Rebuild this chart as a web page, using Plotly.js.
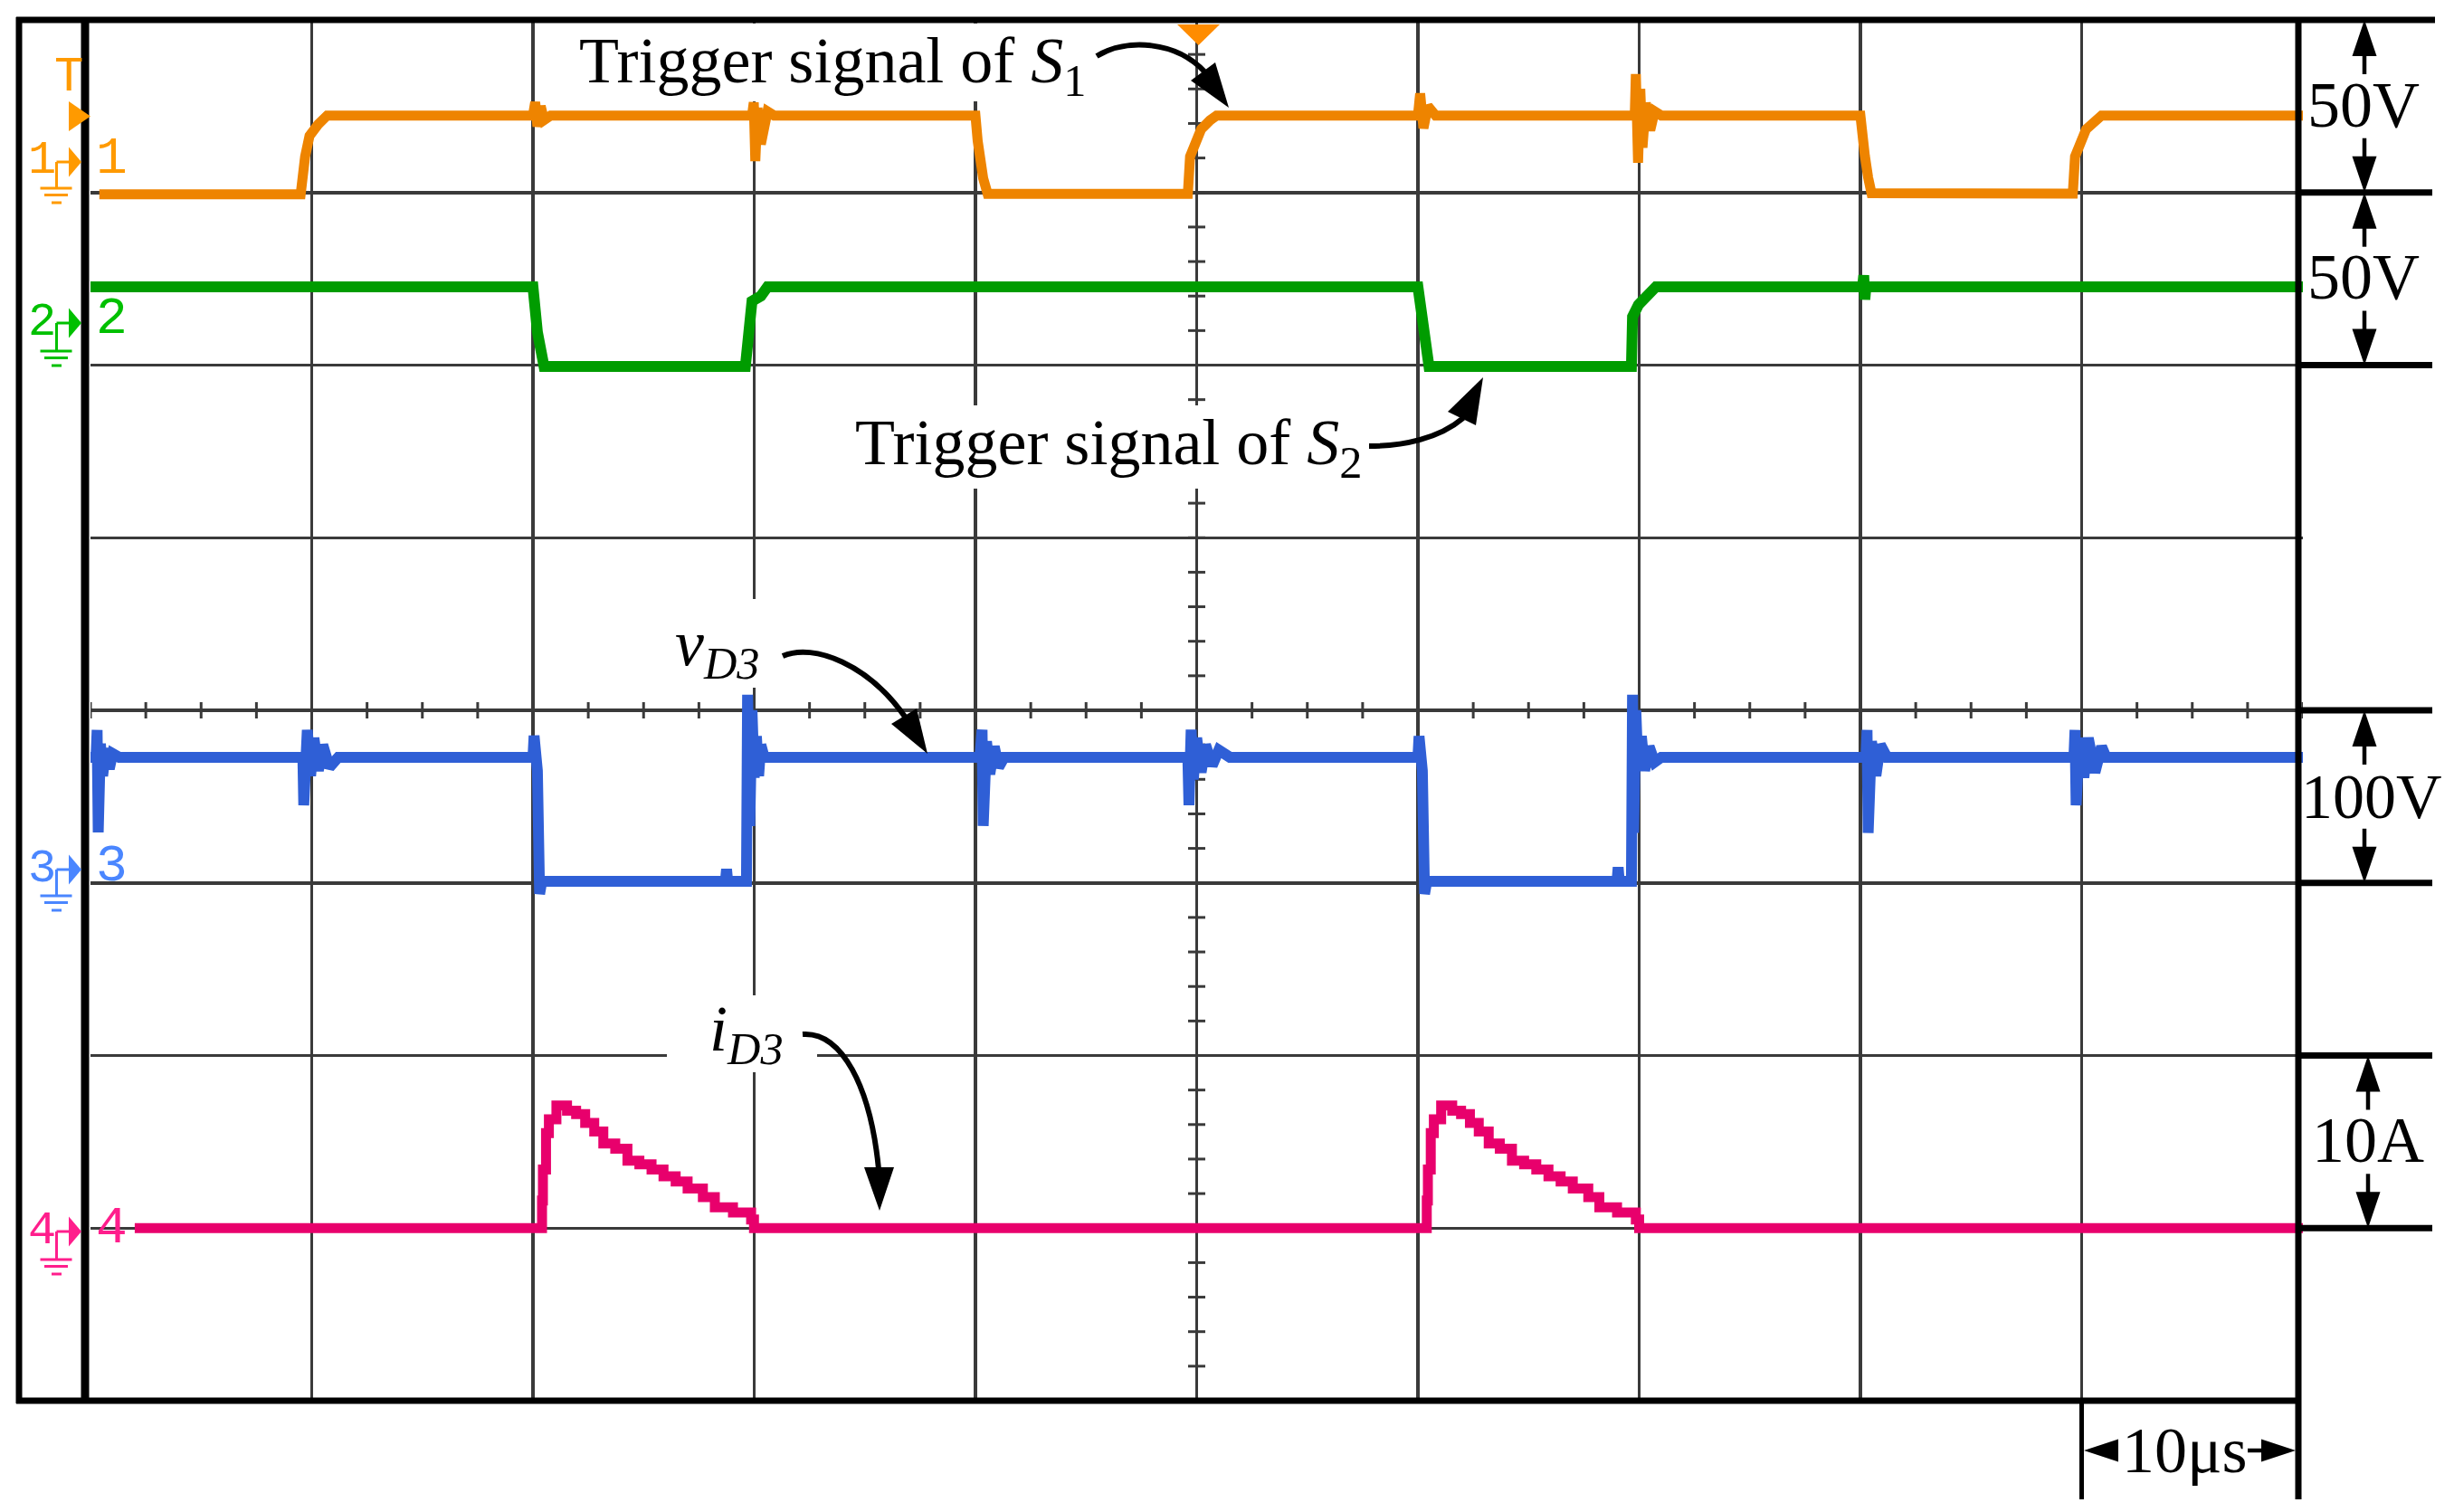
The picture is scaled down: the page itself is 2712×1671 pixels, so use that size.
<!DOCTYPE html>
<html>
<head>
<meta charset="utf-8">
<script src="https://cdn.plot.ly/plotly-3.0.1.min.js"></script>
<style>body{margin:0;background:#fff}</style>
</head>
<body>
<div id="scope" style="width:2712px;height:1671px"></div>
<script>
// time axis in microseconds, 10 us/div

// CH1 - trigger signal of S1, volts (50 V/div)
var t1 = [0.4, 9.5, 9.7, 9.9, 10.3, 10.7, 20.0, 20.1, 20.2, 20.35, 20.5, 20.8, 29.9, 29.98, 30.05, 30.15, 30.3, 30.45, 30.6, 30.9,
  40.0, 40.1, 40.2, 40.35, 40.55, 49.6, 49.7, 50.2, 50.6, 50.9, 60.0, 60.1, 60.25, 60.45, 60.8,
  69.8, 69.85, 69.95, 70.05, 70.15, 70.3, 70.5, 70.7, 71.0, 80.0, 80.1, 80.2, 80.35, 80.5, 89.6, 89.7, 90.2, 90.6, 90.9, 100];
var v1 = [-0.5, -0.5, 10.4, 16.4, 19.8, 22.3, 22.3, 26.2, 19.1, 25, 21, 22.3, 22.3, 26.1, 9.1, 24.5, 14, 21, 23.5, 22.3,
  22.3, 15, 8.6, 4.1, -0.4, -0.4, 10.4, 18.3, 20.9, 22.3, 22.3, 28.7, 18.6, 25, 22.3,
  22.3, 34.3, 8.6, 30, 13, 26, 18, 23.5, 22.3, 22.3, 18.5, 10.7, 4.3, -0.2, -0.3, 10.4, 18.3, 20.9, 22.3, 22.3];

// CH2 - trigger signal of S2, volts (50 V/div)
var t2 = [0, 20.0, 20.2, 20.37, 20.45, 20.5, 29.6, 29.65, 29.75, 29.9, 30.3, 30.6,
  60.0, 60.1, 60.2, 60.35, 60.5, 69.65, 69.7, 69.97, 70.3, 70.76, 80.1, 80.15, 80.2, 80.25, 100];
var v2 = [22.7, 22.7, 9.6, 3.5, 0.9, -0.4, -0.4, 3.5, 14, 18.5, 20, 22.7,
  22.7, 18.5, 10.6, 3.5, -0.4, -0.4, 14, 17.5, 20, 22.7, 22.7, 26, 19, 22.7, 22.7];

// CH3 - v_D3, volts (100 V/div)
var t3 = [0, 0.25, 0.3, 0.35, 0.45, 0.55, 0.7, 0.85, 1.0, 1.3,
  9.6, 9.64, 9.8, 9.95, 10.1, 10.3, 10.5, 10.8, 11.2,
  20.0, 20.05, 20.2, 20.3, 20.4, 28.7, 28.75, 28.8, 29.65, 29.7, 29.8, 29.9, 30.0, 30.1, 30.2, 30.3, 30.45,
  40.2, 40.3, 40.35, 40.5, 40.65, 40.85, 41.05, 41.3,
  49.6, 49.65, 49.75, 49.85, 50.0, 50.2, 50.4, 50.7, 51.0, 51.5,
  60.0, 60.05, 60.2, 60.3, 60.4, 69.0, 69.05, 69.1, 69.65, 69.7, 69.75, 69.85, 69.95, 70.1, 70.25, 70.45, 70.7, 71.0,
  80.25, 80.3, 80.35, 80.5, 80.7, 80.9, 81.2,
  89.65, 89.7, 89.75, 89.9, 90.1, 90.3, 90.6, 90.9, 91.1, 100];
var v3 = [72.8, 72.8, 88.6, 29.3, 80.7, 62, 78, 66, 75, 72.8,
  72.8, 45, 88.6, 62, 84, 65, 80, 67, 72.8,
  72.8, 85.3, 65, -6.4, 0.9, 0.9, 8, 0.9, 0.9, 109, 33, 100, 61, 85, 62, 80, 72.8,
  72.8, 88.7, 33, 82, 63, 79, 67, 72.8,
  72.8, 45, 88.7, 60, 84, 64, 80, 68, 77, 72.8,
  72.8, 85, 65, -6.4, 0.9, 0.9, 9, 0.9, 0.9, 109, 29, 100, 65, 85, 65, 79, 70, 72.8,
  72.8, 88.6, 29, 82, 62, 80, 72.8,
  72.8, 88.6, 45, 84, 61, 84, 64, 79, 72.8, 72.8];

// CH4 - i_D3, amps (10 A/div)
var t4 = [2.0, 20.31, 20.41, 20.45, 20.59, 20.72, 21.06, 21.54, 21.95, 22.36, 22.77, 23.18, 23.72, 24.27, 24.81, 25.36, 25.9,
  26.45, 26.99, 27.68, 28.22, 29.04, 29.86, 29.99,
  60.3, 60.4, 60.45, 60.58, 60.72, 61.05, 61.55, 61.95, 62.35, 62.75, 63.2, 63.7, 64.25, 64.8, 65.35, 65.9,
  66.45, 67.0, 67.7, 68.2, 69.0, 69.85, 70.0, 100];
var i4 = [0, 0, 1.6, 3.4, 5.5, 6.3, 7.1, 6.8, 6.6, 6.1, 5.6, 4.9, 4.6, 3.9, 3.7, 3.4, 3.0,
  2.7, 2.3, 1.8, 1.2, 0.9, 0.5, 0,
  0, 1.6, 3.4, 5.5, 6.3, 7.1, 6.8, 6.6, 6.1, 5.6, 4.9, 4.6, 3.9, 3.7, 3.4, 3.0,
  2.7, 2.3, 1.8, 1.2, 0.9, 0.5, 0, 0];

var labelColors = ['#ff9a00', '#00c000', '#4a86ff', '#ff1e8c'];

// pixel -> paper helpers (plot area 100..2545 x 22..1548)
var PL = 100, PR = 2545, PT = 22, PB = 1548;
function fx(x) { return (x - PL) / (PR - PL); }
function fy(y) { return (PB - y) / (PB - PT); }

function seg(x0, y0, x1, y1, w, col, layer) {
  return {type: 'line', xref: 'paper', yref: 'paper', x0: fx(x0), y0: fy(y0), x1: fx(x1), y1: fy(y1),
    line: {color: col || '#000', width: w}, layer: layer || 'above'};
}
function poly(pts, col, layer) {
  var d = 'M' + pts.map(function(p) { return fx(p[0]) + ',' + fy(p[1]); }).join('L') + 'Z';
  return {type: 'path', xref: 'paper', yref: 'paper', path: d, fillcolor: col || '#000',
    line: {width: 0}, layer: layer || 'above'};
}
function curve(pts, w) {
  var p = pts.map(function(q) { return fx(q[0]) + ',' + fy(q[1]); });
  return {type: 'path', xref: 'paper', yref: 'paper', path: 'M' + p[0] + ' C' + p[1] + ' ' + p[2] + ' ' + p[3],
    line: {color: '#000', width: w}, layer: 'above'};
}
function box(x0, y0, x1, y1) {
  return {type: 'rect', xref: 'paper', yref: 'paper', x0: fx(x0), y0: fy(y1), x1: fx(x1), y1: fy(y0),
    fillcolor: '#fff', line: {width: 0}, layer: 'above'};
}
function text(s, x, y, size, col, fam, xa) {
  return {text: s, xref: 'paper', yref: 'paper', x: fx(x), y: fy(y), showarrow: false,
    xanchor: xa || 'center', yanchor: 'middle',
    font: {family: fam || 'Liberation Serif, Times New Roman, serif', size: size, color: col || '#000'}};
}

var shapes = [];
var annotations = [];

// minor ticks on the centre lines
for (var k = 0; k <= 40; k++) {
  shapes.push({type: 'line', xref: 'x', yref: 'y', ysizemode: 'pixel', yanchor: 0,
    x0: k * 2.5, x1: k * 2.5, y0: -9, y1: 9, line: {color: '#3a3a3a', width: 3}, layer: 'between'});
}
for (var m = -20; m <= 20; m++) {
  shapes.push({type: 'line', xref: 'x', yref: 'y', xsizemode: 'pixel', xanchor: 50,
    y0: m * 0.2, y1: m * 0.2, x0: -9.5, x1: 9.5, line: {color: '#3a3a3a', width: 3}, layer: 'between'});
}

// white boxes behind the labels
shapes.push(box(614, 26, 1214, 112));
shapes.push(box(925, 448, 1505, 540));
shapes.push(box(720, 662, 850, 760));
shapes.push(box(737, 1100, 903, 1185));

// frame
shapes.push(seg(21, 19, 21, 1551, 7));
shapes.push(seg(18, 22, 2691, 22, 7));
shapes.push(seg(18, 1548, 2543, 1548, 7));
shapes.push(seg(94, 22, 94, 1548, 9));
shapes.push(seg(2540, 19, 2540, 1657, 7));
[212.7, 403.5, 785, 975.8, 1166.5, 1357.3].forEach(function(y) {
  shapes.push(seg(2540, y, 2688, y, 7));
});
shapes.push(seg(2300.5, 1548, 2300.5, 1657, 5));

// vertical scale arrows on the right
function vdim(cx, yTop, yBot) {
  shapes.push(poly([[cx - 13.5, yTop + 40], [cx + 13.5, yTop + 40], [cx, yTop]]));
  shapes.push(seg(cx, yTop + 39, cx, yTop + 60, 4.5));
  shapes.push(poly([[cx - 13.5, yBot - 40], [cx + 13.5, yBot - 40], [cx, yBot]]));
  shapes.push(seg(cx, yBot - 39, cx, yBot - 60, 4.5));
}
vdim(2613, 22, 212.7);
vdim(2613, 212.7, 403.5);
vdim(2613, 785, 975.8);
vdim(2617, 1166.5, 1357.3);
annotations.push(text('50V', 2612, 116, 72));
annotations.push(text('50V', 2612, 306, 72));
annotations.push(text('100V', 2621, 880, 70));
annotations.push(text('10A', 2617, 1260, 72));

// 10us time scale
shapes.push(poly([[2303, 1603], [2341, 1590.5], [2341, 1615.5]]));
shapes.push(poly([[2537, 1603], [2499, 1590.5], [2499, 1615.5]]));
shapes.push(seg(2484, 1603, 2500, 1603, 4.5));
annotations.push(text('10μs', 2414, 1603, 72));

// curved label arrows
shapes.push(curve([[1212, 62], [1245, 42], [1300, 45], [1332, 80]], 6));
shapes.push(poly([[1343, 69], [1316, 89], [1358, 119]]));
shapes.push(curve([[1513, 493], [1550, 493], [1590, 485], [1617, 462]], 6));
shapes.push(poly([[1600, 455], [1631, 470], [1639, 417]]));
shapes.push(curve([[865, 725], [900, 710], [960, 735], [1000, 792]], 6));
shapes.push(poly([[985, 800], [1013, 783], [1025, 833]]));
shapes.push(curve([[887, 1143], [930, 1140], [962, 1200], [971, 1292]], 6));
shapes.push(poly([[955, 1290], [988, 1290], [972, 1338]]));

annotations.push(text('Trigger signal of <i>S</i><sub>1</sub>', 638, 72, 72, '#000', null, 'left'));
annotations.push(text('Trigger signal of <i>S</i><sub>2</sub>', 943, 494, 72, '#000', null, 'left'));
annotations.push(text('<i>v</i><sub><i>D3</i></sub>', 744, 716, 72, '#000', null, 'left'));
annotations.push(text('<i>i</i><sub><i>D3</i></sub>', 782, 1142, 72, '#000', null, 'left'));

// scope channel markers on the left
var mono = 'Liberation Mono, DejaVu Sans Mono, monospace';
var marks = [[179, 208], [357, 388], [961, 990], [1361, 1392]];
marks.forEach(function(mk, n) {
  var c = labelColors[n], cy = mk[0], gy = mk[1];
  shapes.push(poly([[76, cy - 16.5], [76, cy + 16.5], [90, cy]], c));
  shapes.push(seg(62.5, cy, 77, cy, 3, c));
  shapes.push(seg(62.5, cy, 62.5, gy, 3, c));
  shapes.push(seg(44.5, gy, 79.5, gy, 3, c));
  shapes.push(seg(49, gy + 7.5, 75, gy + 7.5, 3, c));
  shapes.push(seg(57, gy + 16, 68, gy + 16, 3, c));
  annotations.push(text(String(n + 1), 46, cy - 1, 52, c, mono));
  annotations.push(text(String(n + 1), 123, cy - 4, 58, c, mono));
});
// trigger marks
annotations.push(text('T', 76, 86, 54, labelColors[0], mono));
shapes.push(poly([[76, 112], [76, 145], [100, 128.5]], labelColors[0]));
shapes.push(poly([[1301, 27], [1348, 27], [1324.5, 50]], '#ff8c00'));

var traces = [
  {x: t1, y: v1, yaxis: 'y2', line: {color: '#ee8400', width: 11}},
  {x: t2, y: v2, yaxis: 'y3', line: {color: '#009c00', width: 12}},
  {x: t3, y: v3, yaxis: 'y4', line: {color: '#2f5fd6', width: 12}},
  {x: t4, y: i4, yaxis: 'y5', line: {color: '#e8006c', width: 11, shape: 'hv'}}
];
traces.forEach(function(tr) { tr.type = 'scatter'; tr.mode = 'lines'; tr.xaxis = 'x'; tr.hoverinfo = 'skip'; });

var hidden = {overlaying: 'y', visible: false, showgrid: false, zeroline: false};
var layout = {
  width: 2712,
  height: 1671,
  margin: {l: PL, r: 2712 - PR, t: PT, b: 1671 - PB},
  paper_bgcolor: '#fff',
  plot_bgcolor: '#fff',
  showlegend: false,
  xaxis: {range: [0, 100], tick0: 0, dtick: 10, showgrid: true, gridcolor: '#3a3a3a', gridwidth: 3.5,
    zeroline: false, showticklabels: false, ticks: '', showline: false},
  yaxis: {range: [-4, 4], tick0: 0, dtick: 1, showgrid: true, gridcolor: '#3a3a3a', gridwidth: 3.5,
    zeroline: false, showticklabels: false, ticks: '', showline: false},
  yaxis2: Object.assign({range: [-350, 50]}, hidden),
  yaxis3: Object.assign({range: [-300, 100]}, hidden),
  yaxis4: Object.assign({range: [-300, 500]}, hidden),
  yaxis5: Object.assign({range: [-10, 70]}, hidden),
  shapes: shapes,
  annotations: annotations
};

Plotly.newPlot('scope', traces, layout, {staticPlot: true});
</script>
</body>
</html>
